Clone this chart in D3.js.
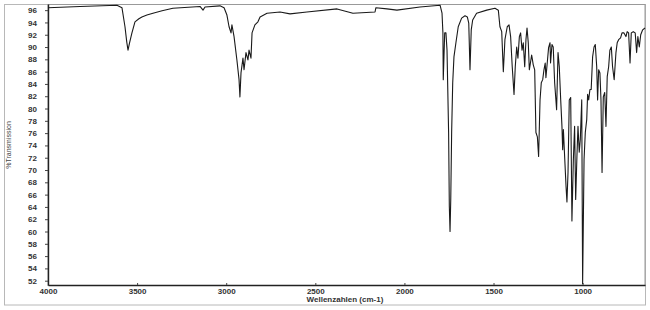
<!DOCTYPE html>
<html>
<head>
<meta charset="utf-8">
<script src="https://cdn.jsdelivr.net/npm/d3@7"></script>
<style>
  body { margin: 0; background: #fff; }
  text { font-family: "Liberation Sans", Arial, sans-serif; }
</style>
</head>
<body>
<div id="chart"></div>
<script>
// wavenumbers (cm-1) and %T
var wavenumbers = [4000, 3820, 3613, 3585, 3568, 3558, 3551, 3543, 3529, 3512, 3490, 3473, 3445, 3411, 3360, 3299, 3147, 3130, 3119,
  3035, 3012, 2996, 2984, 2973, 2968, 2956, 2940, 2928, 2923, 2917, 2906, 2900, 2889, 2878, 2872,
  2861, 2855, 2839, 2822, 2810, 2771, 2698, 2642, 2547, 2378, 2289, 2165, 2160, 2098, 2042, 1913,
  1800, 1789, 1784, 1782, 1774, 1767, 1761, 1752, 1748, 1744, 1740, 1735, 1729, 1722, 1711, 1698,
  1679, 1660, 1647, 1639, 1632, 1625, 1617, 1595, 1538, 1492, 1473, 1464, 1454, 1445, 1436, 1423,
  1413, 1404, 1395, 1385, 1378, 1370, 1363, 1355, 1348, 1340, 1333, 1325, 1318, 1312, 1305, 1299,
  1286, 1277, 1269, 1262, 1254, 1247, 1239, 1232, 1224, 1217, 1210, 1206, 1198, 1191, 1183, 1180,
  1172, 1165, 1157, 1146, 1138, 1131, 1123, 1116, 1112, 1108, 1101, 1093, 1088, 1082, 1075, 1067,
  1060, 1052, 1045, 1039, 1032, 1026, 1019, 1013, 1005, 1000, 992, 985, 977, 972, 966, 959, 952,
  944, 936, 929, 921, 916, 910, 903, 897, 891, 884, 876, 869, 862, 854, 847, 839, 832, 823, 813,
  806, 798, 787, 779, 768, 757, 750, 742, 734, 727, 716, 705, 697, 690, 682, 674, 663, 650];
var transmission = [96.4, 96.6, 96.8, 96.4, 93.3, 90.8, 89.5, 90.6, 92.3, 94.1, 94.6, 94.9, 95.2, 95.5, 95.9, 96.3, 96.6, 96.0, 96.5,
  96.7, 96.4, 95.2, 93.3, 92.3, 93.6, 91.7, 87.9, 84.7, 81.9, 85.8, 88.2, 86.3, 89.1, 87.9, 89.5,
  88.2, 92.3, 93.6, 94.1, 94.9, 95.5, 95.7, 95.4, 95.7, 96.2, 95.5, 95.7, 96.4, 96.2, 96.0, 96.5,
  96.8, 95.5, 92.3, 84.7, 92.3, 92.3, 89.5, 76.1, 64.1, 60.0, 65.2, 76.1, 84.2, 88.4, 90.7, 93.3,
  94.7, 95.1, 94.9, 93.9, 86.3, 92.8, 94.4, 95.5, 96.0, 96.3, 96.0, 93.3, 92.5, 86.0, 91.2, 93.3,
  93.6, 91.7, 86.8, 82.3, 86.8, 90.0, 88.2, 91.7, 92.3, 89.5, 90.7, 86.8, 91.2, 93.1, 90.7, 86.3,
  88.7, 87.1, 86.3, 76.1, 75.4, 72.2, 81.4, 84.2, 84.7, 86.3, 87.4, 85.0, 87.6, 89.9, 90.7, 87.4,
  90.4, 90.0, 84.2, 79.8, 89.1, 86.8, 81.4, 77.1, 73.3, 76.6, 72.2, 67.3, 64.8, 69.6, 81.4, 81.8,
  61.7, 71.7, 77.1, 65.2, 72.2, 77.1, 72.9, 75.0, 81.4, 51.5, 71.7, 76.1, 78.2, 82.3, 81.4, 83.1, 83.1,
  88.4, 90.0, 90.4, 86.8, 81.4, 86.3, 85.8, 81.4, 69.6, 81.9, 82.6, 77.1, 85.2, 86.8, 89.5, 90.0, 86.8, 84.7, 89.1,
  90.7, 91.2, 91.5, 92.3, 92.3, 91.7, 92.5, 92.3, 87.4, 92.3, 92.5, 92.3, 89.1, 91.7, 90.0, 92.0, 92.8, 93.1];
var xTicks = [4000, 3500, 3000, 2500, 2000, 1500, 1000];
var yTicks = [52, 54, 56, 58, 60, 62, 64, 66, 68, 70, 72, 74, 76, 78, 80, 82, 84, 86, 88, 90, 92, 94, 96];

var W = 650, H = 310;
var margin = {top: 4, right: 5, bottom: 25, left: 48};

var svg = d3.select("#chart").append("svg")
    .attr("width", W)
    .attr("height", H);

// outer frame of the scan
svg.append("rect")
    .attr("x", 4.5).attr("y", 4.5)
    .attr("width", 641).attr("height", 300.5)
    .attr("fill", "none")
    .attr("stroke", "#b8b8b8")
    .attr("stroke-width", 1);

var x = d3.scaleLinear()
    .domain([4000, 650])
    .range([margin.left, W - margin.right]);

var y = d3.scaleLinear()
    .domain([51.3, 97])
    .range([H - margin.bottom, margin.top]);

// plot box (top and right sides are light)
svg.append("rect")
    .attr("x", margin.left).attr("y", margin.top + 0.5)
    .attr("width", W - margin.right - margin.left)
    .attr("height", H - margin.bottom - margin.top)
    .attr("fill", "none")
    .attr("stroke", "#999")
    .attr("stroke-width", 1);

var xAxis = d3.axisBottom(x)
    .tickValues(xTicks)
    .tickFormat(d3.format("d"))
    .tickSizeInner(-2)
    .tickSizeOuter(0)
    .tickPadding(3);

var gx = svg.append("g")
    .attr("transform", "translate(0," + (H - margin.bottom) + ")")
    .call(xAxis);

var yAxis = d3.axisLeft(y)
    .tickValues(yTicks)
    .tickSizeInner(3)
    .tickSizeOuter(0)
    .tickPadding(8);

var gy = svg.append("g")
    .attr("transform", "translate(" + margin.left + ",0)")
    .call(yAxis);

[gx, gy].forEach(function(g) {
    g.select(".domain").attr("stroke", "#222").attr("stroke-width", 1.4);
    g.selectAll(".tick line").attr("stroke", "#444");
    g.selectAll(".tick text")
        .attr("fill", "#333")
        .style("font-size", "8px")
        .style("font-weight", "bold");
});

svg.append("text")
    .attr("x", 345)
    .attr("y", 302)
    .attr("text-anchor", "middle")
    .attr("fill", "#333")
    .style("font-size", "8px")
    .style("font-weight", "bold")
    .text("Wellenzahlen (cm-1)");

svg.append("text")
    .attr("transform", "translate(11,145) rotate(-90)")
    .attr("text-anchor", "middle")
    .attr("fill", "#444")
    .style("font-size", "7px")
    .text("%Transmission");

var points = wavenumbers.map(function(w, i) { return [w, transmission[i]]; });

var line = d3.line()
    .x(function(d) { return x(d[0]); })
    .y(function(d) { return y(d[1]); });

svg.append("path")
    .datum(points)
    .attr("d", line)
    .attr("fill", "none")
    .attr("stroke", "#1a1a1a")
    .attr("stroke-width", 1.1)
    .attr("stroke-linejoin", "round");
</script>
</body>
</html>
